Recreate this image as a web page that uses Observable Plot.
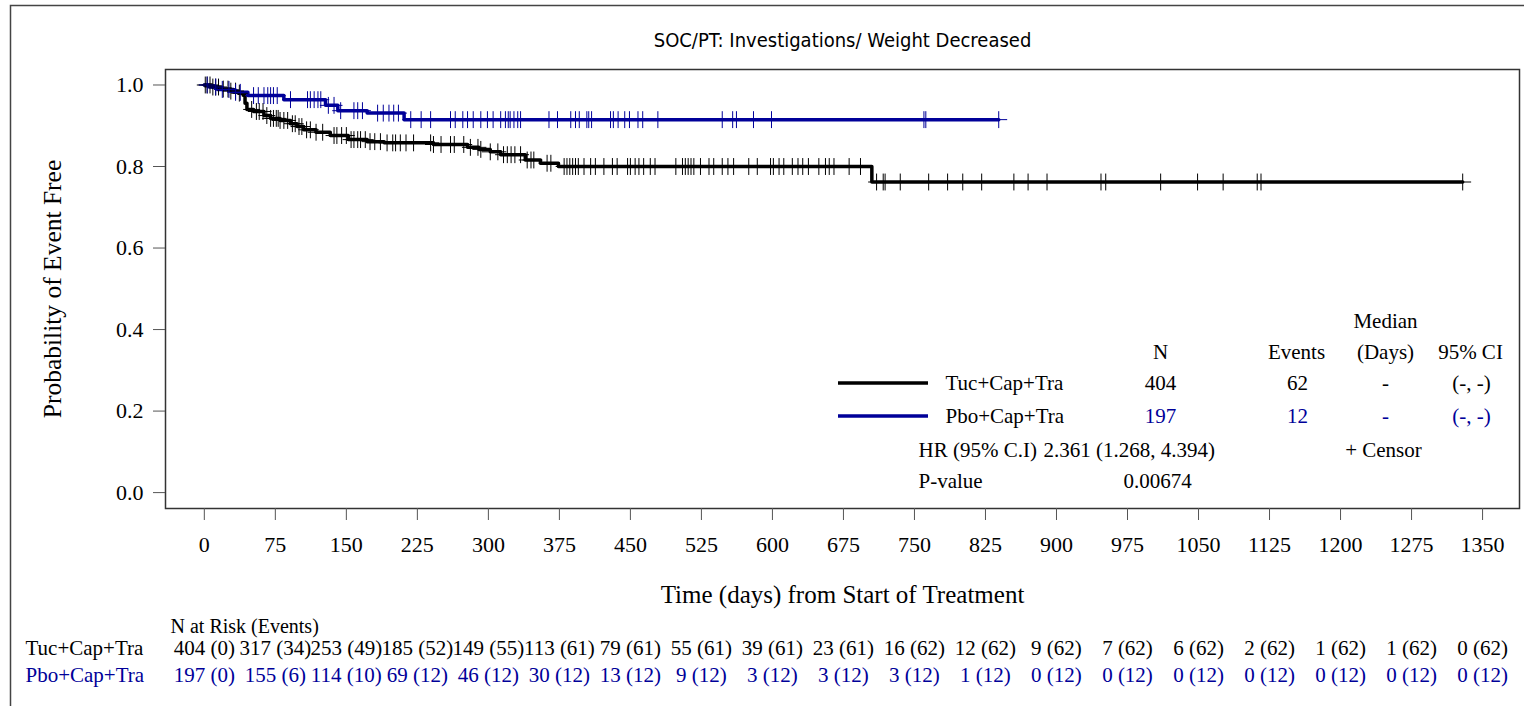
<!DOCTYPE html>
<html><head><meta charset="utf-8">
<script src="https://cdn.jsdelivr.net/npm/d3@7"></script>
<script src="https://cdn.jsdelivr.net/npm/@observablehq/plot@0.6"></script>
<style>
body{margin:0;background:#fff;}
#chart{position:relative;width:1524px;height:706px;overflow:hidden;}
</style></head><body><div id="chart"></div>
<script>
// ---------------- data ----------------
const groups = ["Tuc+Cap+Tra", "Pbo+Cap+Tra"];
const groupColors = ["#000000", "#000099"];
const titleText = "SOC/PT: Investigations/ Weight Decreased";
const xLabel = "Time (days) from Start of Treatment";
const yLabel = "Probability of Event Free";
const xTicks = [0,75,150,225,300,375,450,525,600,675,750,825,900,975,1050,1125,1200,1275,1350];
const yTicks = [0,0.2,0.4,0.6,0.8,1.0];

// KM step points [day, survival]
const tucSteps = [[0,1],[8,0.995],[18,0.99],[28,0.985],[36,0.98],[41,0.975],[43,0.955],[45,0.94],[52,0.935],[63,0.925],[70,0.918],[80,0.913],[91,0.905],[98,0.898],[105,0.89],[118,0.884],[133,0.876],[152,0.866],[172,0.861],[190,0.858],[242,0.854],[278,0.847],[290,0.842],[302,0.836],[313,0.829],[339,0.816],[355,0.808],[374,0.80],[705,0.762],[1329,0.762]];
const pboSteps = [[0,1],[5,0.995],[14,0.989],[31,0.982],[46,0.974],[84,0.964],[128,0.95],[141,0.937],[172,0.931],[211,0.915],[839,0.915]];

// censored times (days)
const tucCensor = [1,3,6,9,12,15,20,25,28,33,37,50,55,58,62,66,70,73,76,78,80,84,88,93,96,100,103,108,112,118,125,137,140,145,150,155,158,162,165,170,175,180,186,193,199,202,207,213,221,239,242,250,260,264,274,281,289,292,302,310,316,320,324,328,334,341,345,348,362,366,380,383,386,389,392,395,401,408,413,422,431,436,447,450,455,459,464,471,476,498,505,508,511,514,517,524,533,538,547,553,559,575,584,598,601,607,612,621,627,632,638,649,656,660,665,681,693,710,717,719,735,765,785,801,821,855,870,890,947,952,1010,1049,1076,1112,1116,1329];
const pboCensor = [3,12,19,26,33,38,52,57,63,67,70,73,77,91,109,112,116,120,123,131,137,144,158,162,167,183,189,195,200,205,218,229,239,260,265,273,278,284,292,299,305,313,318,321,323,327,331,334,364,373,387,392,396,404,406,409,429,432,437,444,449,458,463,479,547,558,562,580,599,760,762,839];

// number at risk (events) at each x tick
const tucRisk = ["404 (0)","317 (34)","253 (49)","185 (52)","149 (55)","113 (61)","79 (61)","55 (61)","39 (61)","23 (61)","16 (62)","12 (62)","9 (62)","7 (62)","6 (62)","2 (62)","1 (62)","1 (62)","0 (62)"];
const pboRisk = ["197 (0)","155 (6)","114 (10)","69 (12)","46 (12)","30 (12)","13 (12)","9 (12)","3 (12)","3 (12)","3 (12)","1 (12)","0 (12)","0 (12)","0 (12)","0 (12)","0 (12)","0 (12)","0 (12)"];

// summary table
const statN = ["404", "197"];
const statEvents = ["62", "12"];
const statMedian = ["-", "-"];
const statCI = ["(-, -)", "(-, -)"];
const hrLabel = "HR (95% C.I)";
const hrValue = "2.361 (1.268, 4.394)";
const pLabel = "P-value";
const pValue = "0.00674";

// ---------------- build tables ----------------
const serif = "'Liberation Serif','Times New Roman',serif";
const narrow = "'Liberation Sans Narrow','Arial Narrow','DejaVu Sans Condensed',sans-serif";
function survAt(steps, t) { let s = 1; for (const [d, v] of steps) { if (d <= t) s = v; } return s; }
const lineData = [
  ...tucSteps.map(([t, s]) => ({g: groups[0], t, s})),
  ...pboSteps.map(([t, s]) => ({g: groups[1], t, s}))
];
const censorData = [
  ...tucCensor.map(t => ({g: groups[0], t, s: survAt(tucSteps, t)})),
  ...pboCensor.map(t => ({g: groups[1], t, s: survAt(pboSteps, t)}))
];
const riskData = [
  ...tucRisk.map((label, i) => ({g: groups[0], t: xTicks[i], label})),
  ...pboRisk.map((label, i) => ({g: groups[1], t: xTicks[i], label}))
];

// frame at (165,69)-(1519,508)
const ML = 165, MT = 69, MR = 5, MB = 198;
const FS = 21;
const txt = (s, o) => Plot.text([s], {text: d => d, fontFamily: serif, fontSize: FS, frameAnchor: "top-left", textAnchor: "middle", lineAnchor: "middle", ...o});

const plot = Plot.plot({
  width: 1524, height: 706,
  marginLeft: ML, marginTop: MT, marginRight: MR, marginBottom: MB,
  style: {fontFamily: serif, fontSize: "20px", background: "transparent", overflow: "visible"},
  x: {domain: [-41, 1389]},
  y: {domain: [-0.039, 1.038]},
  color: {domain: groups, range: groupColors},
  marks: [
    Plot.frame({stroke: "#333", strokeWidth: 1.5}),
    Plot.axisX({ticks: xTicks, tickSize: 12, tickPadding: 16, fontSize: 22, label: null, tickFormat: d => String(d), stroke: "#555"}),
    Plot.axisY({ticks: yTicks, tickSize: 12, tickPadding: 10, fontSize: 22, label: null, tickFormat: d3.format(".1f"), stroke: "#555"}),
    Plot.line(lineData, {x: "t", y: "s", z: "g", stroke: "g", curve: "step-after", strokeWidth: 3.5}),
    Plot.dot(censorData, {x: "t", y: "s", stroke: "g", symbol: "plus", r: 5.5, strokeWidth: 1}),
    // titles and axis labels
    Plot.text([titleText], {text: d => d, frameAnchor: "top", dy: -29, lineAnchor: "middle", textAnchor: "middle", fontFamily: narrow, fontSize: 20}),
    Plot.text([xLabel], {text: d => d, frameAnchor: "bottom", dy: 86, lineAnchor: "middle", textAnchor: "middle", fontSize: 25}),
    Plot.text([yLabel], {text: d => d, frameAnchor: "left", dx: -113, rotate: -90, lineAnchor: "middle", textAnchor: "middle", fontSize: 25.5}),
    // risk table
    txt("N at Risk (Events)", {frameAnchor: "bottom-left", dx: 5, dy: 118, textAnchor: "start", fontSize: 20}),
    txt(groups[0], {frameAnchor: "bottom-left", dx: -140, dy: 140, textAnchor: "start", fill: groupColors[0]}),
    txt(groups[1], {frameAnchor: "bottom-left", dx: -140, dy: 167, textAnchor: "start", fill: groupColors[1]}),
    Plot.text(riskData.filter(d => d.g === groups[0]), {x: "t", text: "label", frameAnchor: "bottom", dy: 140, lineAnchor: "middle", fontSize: FS, fill: groupColors[0]}),
    Plot.text(riskData.filter(d => d.g === groups[1]), {x: "t", text: "label", frameAnchor: "bottom", dy: 167, lineAnchor: "middle", fontSize: FS, fill: groupColors[1]}),
    // summary legend table
    txt("Median", {dx: 1385 - ML, dy: 321 - MT}),
    txt("N", {dx: 1160 - ML, dy: 352 - MT}),
    txt("Events", {dx: 1296 - ML, dy: 352 - MT}),
    txt("(Days)", {dx: 1385 - ML, dy: 352 - MT}),
    txt("95% CI", {dx: 1470 - ML, dy: 352 - MT}),
    ...[0, 1].flatMap(i => {
      const y = (i === 0 ? 383 : 416) - MT;
      const c = groupColors[i];
      return [
        txt(groups[i], {dx: 945 - ML, dy: y, textAnchor: "start", fill: "#000"}),
        txt(statN[i], {dx: 1160 - ML, dy: y, fill: c}),
        txt(statEvents[i], {dx: 1297 - ML, dy: y, fill: c}),
        txt(statMedian[i], {dx: 1385 - ML, dy: y, fill: c}),
        txt(statCI[i], {dx: 1471 - ML, dy: y, fill: c})
      ];
    }),
    txt(hrLabel, {dx: 918 - ML, dy: 450 - MT, textAnchor: "start"}),
    txt(hrValue, {dx: 1043 - ML, dy: 450 - MT, textAnchor: "start"}),
    txt("+ Censor", {dx: 1383 - ML, dy: 450 - MT}),
    txt(pLabel, {dx: 918 - ML, dy: 481 - MT, textAnchor: "start"}),
    txt(pValue, {dx: 1157 - ML, dy: 481 - MT})
  ]
});

// decorations: outer border and legend swatches
const svg = d3.select(plot);
svg.insert("rect", ":first-child")
  .attr("x", 10.5).attr("y", 5.5).attr("width", 1600).attr("height", 800)
  .attr("fill", "none").attr("stroke", "#444").attr("stroke-width", 1.5);
groups.forEach((g, i) => {
  const y = i === 0 ? 383 : 416;
  svg.append("line").attr("x1", 838).attr("x2", 928).attr("y1", y).attr("y2", y)
    .attr("stroke", groupColors[i]).attr("stroke-width", 3.5);
});
document.getElementById("chart").appendChild(plot);
</script>
</body></html>
